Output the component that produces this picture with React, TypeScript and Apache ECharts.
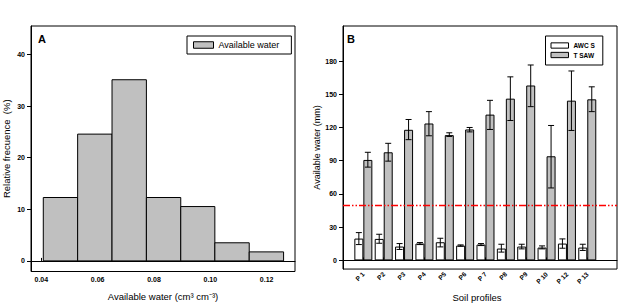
import React, { useEffect, useRef } from "react";
import * as echarts from "echarts";

const FONT = "Liberation Sans, Arial, sans-serif";

// Panel A: histogram of available water
const binStart = [0.0407, 0.0529, 0.0651, 0.0773, 0.0895, 0.1016, 0.1138];
const binEnd = [0.0529, 0.0651, 0.0773, 0.0895, 0.1016, 0.1138, 0.126];
const relFreq = [12.28, 24.56, 35.09, 12.28, 10.53, 3.51, 1.75];
const xTicksA = [0.04, 0.06, 0.08, 0.1, 0.12];
const yTicksA = [0, 10, 20, 30, 40];

// Panel B: soil profiles
const profiles = ["P 1", "P2", "P3", "P4", "P5", "P6", "P 7", "P8", "P9", "P 10", "P 12", "P 13"];
const profilePos = [1, 2, 3, 4, 5, 6, 7, 8, 9, 10, 11, 12];
const awcs = [19.7, 19.4, 12.5, 15.2, 16.4, 13.4, 14.3, 10.7, 12.5, 11.6, 15.2, 11.6];
const awcsHigh = [25.1, 23.6, 15.2, 16.1, 20.0, 14.0, 15.2, 14.6, 14.6, 13.1, 19.4, 14.6];
const awcsLow = [14.3, 15.5, 9.9, 14.3, 12.2, 12.8, 13.4, 7.5, 10.4, 10.4, 11.0, 9.0];
const tsaw = [90.7, 97.6, 117.9, 123.6, 113.1, 118.2, 131.6, 146.0, 157.9, 94.0, 144.2, 145.4];
const tsawHigh = [97.6, 105.7, 127.2, 134.3, 115.2, 120.0, 144.5, 165.7, 176.4, 121.8, 171.0, 156.7];
const tsawLow = [84.2, 89.6, 109.0, 112.5, 111.9, 116.0, 118.2, 126.3, 138.8, 65.4, 117.3, 134.3];
const yTicksB = [0, 30, 60, 90, 120, 150, 180];
const threshold = 50;

const GRAY = "#c0c0c0";

function makeErr(offset: number) {
  return (params: any, api: any) => {
    const x = api.value(0);
    const lo = api.coord([x, api.value(1)]);
    const hi = api.coord([x, api.value(2)]);
    const cx = lo[0] + offset;
    const hw = 3;
    const st = { stroke: "#000", lineWidth: 1 };
    return {
      type: "group",
      children: [
        { type: "line", shape: { x1: cx, y1: hi[1], x2: cx, y2: lo[1] }, style: st },
        { type: "line", shape: { x1: cx - hw, y1: hi[1], x2: cx + hw, y2: hi[1] }, style: st },
        { type: "line", shape: { x1: cx - hw, y1: lo[1], x2: cx + hw, y2: lo[1] }, style: st },
      ],
    };
  };
}

export default function App() {
  const ref = useRef<HTMLDivElement>(null);
  useEffect(() => {
    const chart = echarts.init(ref.current!, null, { renderer: "svg" });
    const tickLabel = { fontSize: 7, fontWeight: "bold", color: "#000", fontFamily: FONT };
    const nameStyle = { fontSize: 9.5, color: "#000", fontFamily: FONT };
    chart.setOption({
      animation: false,
      backgroundColor: "#fff",
      title: [
        { text: "A", left: 38, top: 33, padding: 0, textStyle: { fontSize: 11, fontWeight: "bold", color: "#000", fontFamily: FONT } },
        { text: "B", left: 347, top: 33, padding: 0, textStyle: { fontSize: 11, fontWeight: "bold", color: "#000", fontFamily: FONT } },
      ],
      legend: [
        {
          data: [{ name: "Available water", itemStyle: { color: GRAY, borderColor: "#000", borderWidth: 1 } }],
          left: 187,
          top: 36,
          padding: [4.5, 12, 4.5, 6],
          borderColor: "#000",
          borderWidth: 1,
          itemWidth: 20,
          itemHeight: 6.5,
          icon: "rect",
          selectedMode: false,
          textStyle: { fontSize: 9, color: "#000", fontFamily: FONT, padding: [0, 0, 0, 0] },
        },
        {
          data: [
            { name: "AWC S", itemStyle: { color: "#fff", borderColor: "#000", borderWidth: 1 } },
            { name: "T SAW", itemStyle: { color: GRAY, borderColor: "#000", borderWidth: 1 } },
          ],
          orient: "vertical",
          left: 545.5,
          top: 36,
          padding: [5.5, 8, 6, 5],
          itemGap: 1.5,
          borderColor: "#000",
          borderWidth: 1,
          itemWidth: 17.5,
          itemHeight: 5.3,
          icon: "rect",
          selectedMode: false,
          textStyle: { fontSize: 6.5, fontWeight: "bold", color: "#000", fontFamily: FONT, lineHeight: 8 },
        },
      ],
      grid: [
        { left: 31, top: 26, width: 264, height: 245.5, show: true, borderColor: "#000", borderWidth: 1, backgroundColor: "transparent" },
        { left: 343, top: 26, width: 274, height: 245, show: true, borderColor: "#000", borderWidth: 1, backgroundColor: "transparent" },
      ],
      xAxis: [
        {
          type: "value",
          gridIndex: 0,
          min: 0.03634,
          max: 0.13005,
          name: "Available water (cm³ cm⁻³)",
          nameLocation: "middle",
          nameGap: 20,
          nameTextStyle: nameStyle,
          axisLine: { show: true, lineStyle: { color: "#000", width: 1 } },
          axisTick: { show: true, inside: true, length: 3, customValues: xTicksA, lineStyle: { color: "#000" } },
          axisLabel: { customValues: xTicksA, margin: 4, formatter: (v: number) => v.toFixed(2), ...tickLabel },
          splitLine: { show: false },
        },
        {
          type: "value",
          gridIndex: 1,
          min: 0,
          max: 13.46,
          name: "Soil profiles",
          nameLocation: "middle",
          nameGap: 22,
          nameTextStyle: { ...nameStyle, padding: [0, 6, 0, 0] },
          axisLine: { show: true, lineStyle: { color: "#000", width: 1 } },
          axisTick: { show: true, inside: true, length: 3, customValues: profilePos, lineStyle: { color: "#000" } },
          axisLabel: {
            customValues: profilePos,
            rotate: 45,
            margin: 4,
            formatter: (v: number) => profiles[Math.round(v) - 1] ?? "",
            ...tickLabel,
            fontSize: 6.5,
          },
          splitLine: { show: false },
        },
      ],
      yAxis: [
        {
          type: "value",
          gridIndex: 0,
          min: -2.05,
          max: 45.5,
          name: "Relative frecuence  (%)",
          nameLocation: "middle",
          nameGap: 20,
          nameTextStyle: nameStyle,
          axisLine: { show: true, lineStyle: { color: "#000", width: 1 } },
          axisTick: { show: true, inside: false, length: 4, customValues: yTicksA, lineStyle: { color: "#000" } },
          axisLabel: { customValues: yTicksA, margin: 6, ...tickLabel },
          splitLine: { show: false },
        },
        {
          type: "value",
          gridIndex: 1,
          min: -7.8,
          max: 211.6,
          name: "Available water (mm)",
          nameLocation: "middle",
          nameGap: 22,
          nameTextStyle: { ...nameStyle, fontSize: 9 },
          axisLine: { show: true, lineStyle: { color: "#000", width: 1 } },
          axisTick: { show: true, inside: false, length: 4, customValues: yTicksB, lineStyle: { color: "#000" } },
          axisLabel: { customValues: yTicksB, margin: 6, ...tickLabel },
          splitLine: { show: false },
        },
      ],
      series: [
        {
          name: "Available water",
          type: "custom",
          xAxisIndex: 0,
          yAxisIndex: 0,
          itemStyle: { color: GRAY },
          encode: { x: [0, 1], y: 2 },
          data: relFreq.map((v, i) => [binStart[i], binEnd[i], v]),
          renderItem: (params: any, api: any) => {
            const p0 = api.coord([api.value(0), 0]);
            const p1 = api.coord([api.value(1), api.value(2)]);
            return {
              type: "rect",
              shape: { x: p0[0], y: p1[1], width: p1[0] - p0[0], height: p0[1] - p1[1] },
              style: { fill: GRAY, stroke: "#000", lineWidth: 1 },
            };
          },
        },
        {
          name: "AWC S",
          type: "bar",
          xAxisIndex: 1,
          yAxisIndex: 1,
          barWidth: 9,
          barGap: "0%",
          itemStyle: { color: "#fff", borderColor: "#000", borderWidth: 1 },
          data: profilePos.map((p, i) => [p, awcs[i]]),
        },
        {
          name: "T SAW",
          type: "bar",
          xAxisIndex: 1,
          yAxisIndex: 1,
          barWidth: 9,
          barGap: "0%",
          itemStyle: { color: GRAY, borderColor: "#000", borderWidth: 1 },
          data: profilePos.map((p, i) => [p, tsaw[i]]),
          markLine: {
            silent: true,
            symbol: "none",
            label: { show: false },
            lineStyle: { color: "#ff0000", type: [7, 2, 1.5, 2, 1.5, 2], width: 1.3 },
            data: [{ yAxis: threshold }],
          },
        },
        {
          type: "custom",
          xAxisIndex: 1,
          yAxisIndex: 1,
          z: 5,
          encode: { x: 0, y: [1, 2] },
          data: profilePos.map((p, i) => [p, awcsLow[i], awcsHigh[i]]),
          renderItem: makeErr(-4.5),
        },
        {
          type: "custom",
          xAxisIndex: 1,
          yAxisIndex: 1,
          z: 5,
          encode: { x: 0, y: [1, 2] },
          data: profilePos.map((p, i) => [p, tsawLow[i], tsawHigh[i]]),
          renderItem: makeErr(4.5),
        },
      ],
    });
    return () => chart.dispose();
  }, []);
  return <div ref={ref} style={{ position: "fixed", left: 0, top: 0, width: 624, height: 307 }} />;
}
